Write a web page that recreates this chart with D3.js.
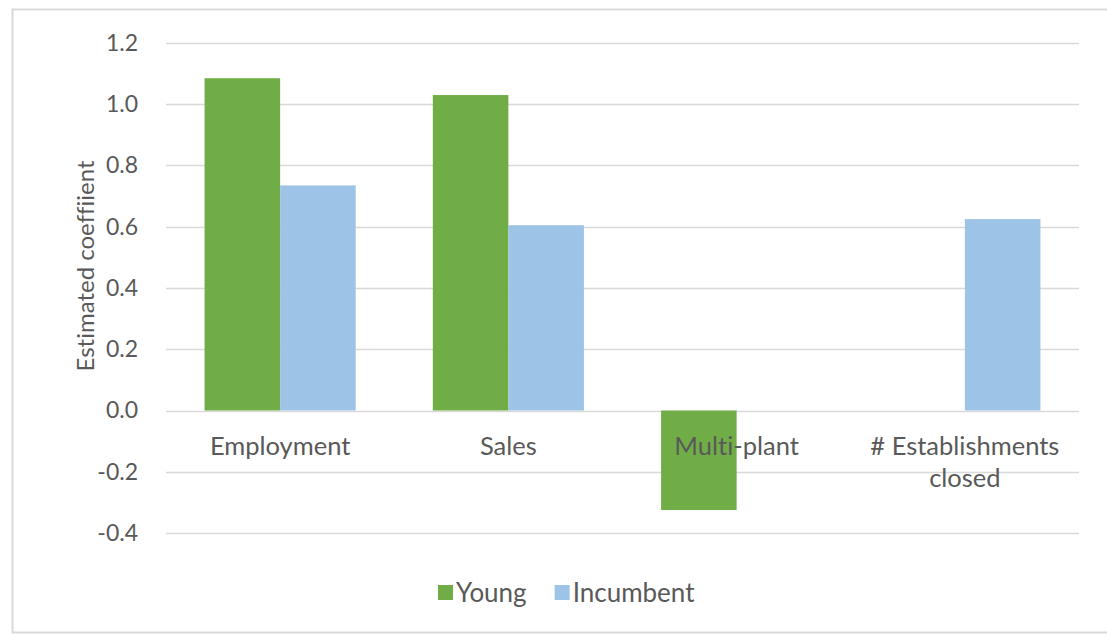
<!DOCTYPE html>
<html>
<head>
<meta charset="utf-8">
<script src="https://cdn.jsdelivr.net/npm/d3@7"></script>
<style>
  body { margin: 0; background: #fff; }
  svg { display: block; font-family: "Lato", "Open Sans", sans-serif; font-variant-ligatures: none; }
</style>
</head>
<body>
<div id="chart"></div>
<script>
// chart data
const categories = ["Employment", "Sales", "Multi-plant", "# Establishments closed"];
const seriesNames = ["Young", "Incumbent"];
const young = [1.085, 1.03, -0.325, null];
const incumbent = [0.735, 0.605, null, 0.625];
const yTicks = [-0.4, -0.2, 0.0, 0.2, 0.4, 0.6, 0.8, 1.0, 1.2];
const colors = ["#70ad47", "#9dc3e6"];

const width = 1107, height = 635;
const margin = { top: 43, right: 28, bottom: 102, left: 166 };
const textColor = '#595959';

const svg = d3.select('#chart').append('svg')
    .attr('width', width)
    .attr('height', height);

// outer chart frame
svg.append('rect')
    .attr('x', 12.5).attr('y', 9.5)
    .attr('width', 1110).attr('height', 623)
    .attr('fill', 'none')
    .attr('stroke', '#d9d9d9')
    .attr('stroke-width', 2);

const plotW = width - margin.left - margin.right;
const plotH = height - margin.top - margin.bottom;

const x = d3.scaleBand()
    .domain(categories)
    .range([0, plotW])
    .paddingInner(0.338)
    .paddingOuter(0.169);

const xSub = d3.scaleBand()
    .domain(seriesNames)
    .range([0, x.bandwidth()]);

const y = d3.scaleLinear()
    .domain([-0.4, 1.2])
    .range([plotH, 0]);

const g = svg.append('g')
    .attr('transform', `translate(${margin.left},${margin.top})`);

// gridlines
g.append('g')
    .selectAll('line')
    .data(yTicks)
    .join('line')
    .attr('x1', 0).attr('x2', plotW)
    .attr('y1', d => Math.round(y(d)) + 0.5)
    .attr('y2', d => Math.round(y(d)) + 0.5)
    .attr('stroke', '#d9d9d9')
    .attr('stroke-width', 1.5);

// y tick labels (hyphen minus, like Excel)
const yAxis = d3.axisLeft(y)
    .tickValues(yTicks)
    .tickFormat(d => d3.format('.1f')(d).replace('\u2212', '-'))
    .tickSize(0)
    .tickPadding(28);
g.append('g')
    .call(yAxis)
    .call(a => a.select('.domain').remove())
    .selectAll('text')
    .attr('fill', textColor)
    .attr('font-size', 23)
    .attr('font-family', '"Lato", "Open Sans", sans-serif');

// bars
const rows = categories.map((c, i) => ({ cat: c, values: [young[i], incumbent[i]] }));
const groups = g.append('g')
    .selectAll('g')
    .data(rows)
    .join('g')
    .attr('transform', d => `translate(${x(d.cat)},0)`);

groups.selectAll('rect')
    .data(d => d.values.map((v, j) => ({ name: seriesNames[j], v, j })).filter(e => e.v !== null))
    .join('rect')
    .attr('x', d => xSub(d.name))
    .attr('width', xSub.bandwidth())
    .attr('y', d => y(Math.max(0, d.v)))
    .attr('height', d => Math.abs(y(d.v) - y(0)))
    .attr('fill', d => colors[d.j]);

// category labels
const catLabels = g.append('g')
    .selectAll('text')
    .data(categories)
    .join('text')
    .attr('x', d => x(d) + x.bandwidth() / 2)
    .attr('y', y(0) + 44)
    .attr('text-anchor', 'middle')
    .attr('fill', textColor)
    .attr('font-size', 25.5);

catLabels.each(function (d) {
    const t = d3.select(this);
    const lines = d === "# Establishments closed" ? ["# Establishments", "closed"] : [d];
    lines.forEach((line, i) => {
        t.append('tspan')
            .attr('x', x(d) + x.bandwidth() / 2)
            .attr('dy', i === 0 ? 0 : 32)
            .text(line);
    });
});

// y axis title
svg.append('text')
    .attr('transform', 'translate(94,266) rotate(-90)')
    .attr('text-anchor', 'middle')
    .attr('fill', textColor)
    .attr('font-size', 24)
    .text('Estimated coeffiient');

// legend
const legend = svg.append('g')
    .attr('transform', 'translate(438,593)');
let lx = 0;
seriesNames.forEach((name, i) => {
    const item = legend.append('g').attr('transform', `translate(${lx},0)`);
    item.append('rect')
        .attr('x', 0).attr('y', -8)
        .attr('width', 15).attr('height', 15)
        .attr('fill', colors[i]);
    const txt = item.append('text')
        .attr('x', 18)
        .attr('y', 9)
        .attr('fill', textColor)
        .attr('font-size', 26)
        .text(name);
    lx += 18 + txt.node().getComputedTextLength() + 28;
});
</script>
</body>
</html>
